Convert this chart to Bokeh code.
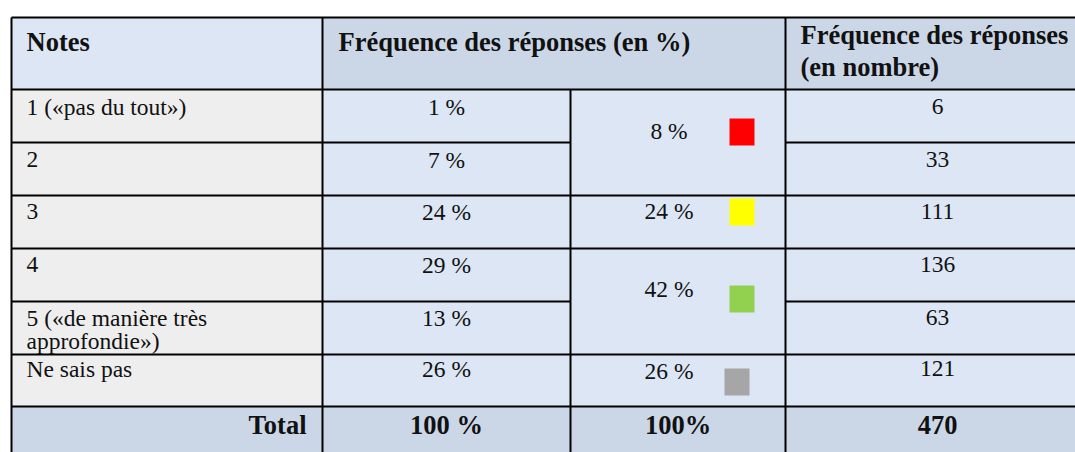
from bokeh.plotting import figure
from bokeh.models import Range1d
from bokeh.core.properties import value
from bokeh.embed import file_html
from bokeh.resources import INLINE

# ---------------- data ----------------
header_notes = "Notes"
header_pct = "Fréquence des réponses (en %)"
header_count = ["Fréquence des réponses", "(en nombre)"]
notes = [["1 («pas du tout»)"], ["2"], ["3"], ["4"],
         ["5 («de manière très", "approfondie»)"], ["Ne sais pas"]]
pct = [1, 7, 24, 29, 13, 26]
group_pct = [8, 24, 42, 26]
group_span = [2, 1, 2, 1]
group_colors = ["#FF0000", "#FFFF00", "#92D050", "#A6A6A6"]
counts = [6, 33, 111, 136, 63, 121]
total_label = "Total"
total_pct = "100 %"
total_group = "100%"
total_count = 470

# ---------------- layout ----------------
W, H = 1075, 452
col_edges = [11, 322, 570, 785, 1089]
row_edges = [17, 89, 142, 195, 248, 301, 354, 406, 462]
LIGHT = "#DCE6F4"
DARK = "#CBD7E6"
GRAY = "#EEEEEE"
FONT = value("Liberation Serif")
REG = "23.5px"
BOLD = "26.5px"
TXT = "#111111"

p = figure(width=W, height=H, output_backend="svg", toolbar_location=None,
           x_range=Range1d(0, W), y_range=Range1d(H, 0),
           min_border=0, outline_line_color=None, background_fill_color="white")
p.axis.visible = False
p.grid.visible = False

c0, c1, c2, c3, c4 = col_edges
nrows = len(notes)
top_hdr, bot_hdr = row_edges[0], row_edges[1]
rt = row_edges[1:1 + nrows]
rb = row_edges[2:2 + nrows]
tot_t, tot_b = row_edges[1 + nrows], row_edges[2 + nrows]

# cell fills
L, R, T, B, C = [], [], [], [], []
def cell(l, r, t, b, c):
    L.append(l); R.append(r); T.append(t); B.append(b); C.append(c)
cell(c0, c1, top_hdr, bot_hdr, LIGHT)
cell(c1, c3, top_hdr, bot_hdr, DARK)
cell(c3, c4, top_hdr, bot_hdr, DARK)
for i in range(nrows):
    cell(c0, c1, rt[i], rb[i], GRAY)
    cell(c1, c2, rt[i], rb[i], LIGHT)
    cell(c3, c4, rt[i], rb[i], LIGHT)
gstart = [sum(group_span[:k]) for k in range(len(group_span))]
for k, s in enumerate(gstart):
    cell(c2, c3, rt[s], rb[s + group_span[k] - 1], LIGHT)
cell(c0, c4, tot_t, tot_b, DARK)
p.quad(left=L, right=R, top=T, bottom=B, fill_color=C, line_color=None)

# borders
x0s, y0s, x1s, y1s = [], [], [], []
def seg(a, b, c, d):
    x0s.append(a); y0s.append(b); x1s.append(c); y1s.append(d)
seg(c0, top_hdr, c4, top_hdr)
seg(c0, bot_hdr, c4, bot_hdr)
inner = set()
for k, s in enumerate(gstart):
    for j in range(1, group_span[k]):
        inner.add(s + j)
for i in range(1, nrows + 1):
    y = row_edges[1 + i]
    if i in inner:
        seg(c0, y, c2, y); seg(c3, y, c4, y)
    else:
        seg(c0, y, c4, y)
seg(c0, top_hdr, c0, tot_b)
seg(c1, top_hdr, c1, tot_b)
seg(c2, bot_hdr, c2, tot_b)
seg(c3, top_hdr, c3, tot_b)
p.segment(x0=x0s, y0=y0s, x1=x1s, y1=y1s, line_color="black", line_width=2)

def txt(x, y, s, align="left", bold=False):
    p.text(x=[x], y=[y], text=[s], text_font=FONT,
           text_font_size=BOLD if bold else REG,
           text_font_style="bold" if bold else "normal",
           text_align=align, text_baseline="alphabetic", text_color=TXT)

PAD = 15
# header
txt(c0 + PAD, top_hdr + 24, header_notes, bold=True)
txt(c1 + 16, top_hdr + 24, header_pct, bold=True)
txt(c3 + PAD, top_hdr + 17, header_count[0], bold=True)
txt(c3 + PAD, top_hdr + 49, header_count[1], bold=True)

# rows
row_dy = [17, 17, 16, 16, 16, 14]
for i in range(nrows):
    for j, line in enumerate(notes[i]):
        txt(c0 + PAD, rt[i] + row_dy[i] + 23 * j, line)
    txt((c1 + c2) / 2, rt[i] + row_dy[i], f"{pct[i]} %", align="center")
    txt((c3 + c4) / 2, rt[i] + row_dy[i], str(counts[i]), align="center")

# grouped column with colour markers
gc = (c2 + c3) / 2
text_dy = [41, 15, 40, 16]
sq_dx = [64, 64, 64, 59]
sq_dy = [29, 3, 37, 14]
sx, sy, scol = [], [], []
for k, s in enumerate(gstart):
    top = rt[s]
    txt(gc - 9, top + text_dy[k], f"{group_pct[k]} %", align="center")
    sx.append(gc + sq_dx[k]); sy.append(top + sq_dy[k] + 13.5); scol.append(group_colors[k])
p.rect(x=sx, y=sy, width=25, height=27, fill_color=scol, line_color=None)

# total row
txt(c1 - 16, tot_t + 18, total_label, align="right", bold=True)
txt((c1 + c2) / 2, tot_t + 18, total_pct, align="center", bold=True)
txt(gc, tot_t + 18, total_group, align="center", bold=True)
txt((c3 + c4) / 2, tot_t + 18, str(total_count), align="center", bold=True)

open("out.html", "w").write(file_html(p, INLINE))
